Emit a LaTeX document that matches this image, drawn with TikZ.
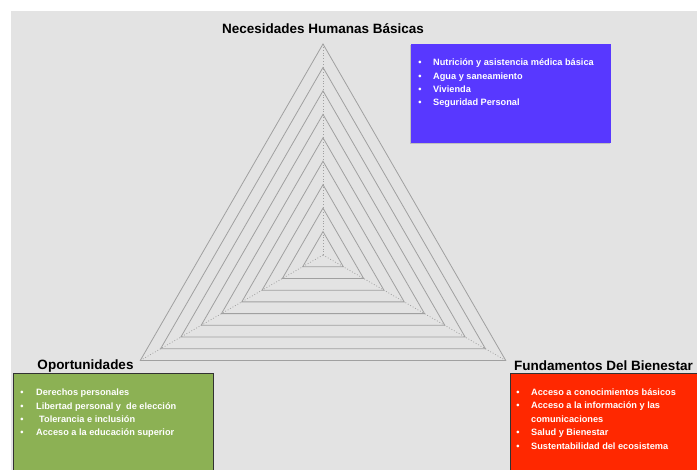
\documentclass[tikz,border=0pt]{standalone}
\usepackage{fontspec}
\setmainfont{Liberation Sans}
\definecolor{bgrey}{RGB}{227,227,227}
\definecolor{ringgrey}{RGB}{160,160,160}
\definecolor{nhbblue}{RGB}{88,56,255}
\definecolor{opgreen}{RGB}{140,177,84}
\definecolor{fbred}{RGB}{255,40,0}
\definecolor{edgedark}{RGB}{50,50,50}
\tikzset{
  ring/.style={draw=ringgrey, line width=0.8pt, line join=miter},
  spoke/.style={draw=ringgrey, line width=0.8pt, dotted},
  heading/.style={font=\bfseries\fontsize{13.5}{15}\selectfont, text=black, inner sep=0pt},
  item/.style={font=\bfseries\fontsize{9.2}{11}\selectfont, text=white, inner sep=0pt, anchor=base west},
  dot/.style={font=\bfseries\fontsize{9.2}{11}\selectfont, text=white, inner sep=0pt, anchor=base},
  box/.style={anchor=north west, inner sep=0pt, line width=0.9pt}
}
\begin{document}
\begin{tikzpicture}[x=1pt, y=-1pt]
\useasboundingbox (0,0) rectangle (697,470);
\clip (0,0) rectangle (697,470);
\fill[white] (0,0) rectangle (697,470);
\fill[bgrey] (11,11) rectangle (697,470);

% radar grid
\coordinate (c) at (323,255);
\coordinate (top) at (323,44);
\coordinate (bl) at ({323+211*cos(210)},{255-211*sin(210)});
\coordinate (br) at ({323+211*cos(330)},{255-211*sin(330)});
\foreach \k in {1,...,9}{
  \pgfmathsetmacro{\r}{211*\k/9}
  \draw[ring] ({323+\r*cos(90)},{255-\r*sin(90)}) -- ({323+\r*cos(210)},{255-\r*sin(210)}) -- ({323+\r*cos(330)},{255-\r*sin(330)}) -- cycle;
}
\draw[spoke] (c) -- (top);
\draw[spoke] (c) -- (bl);
\draw[spoke] (c) -- (br);

% headings
\node[heading] (hnhb) at (323,29) {Necesidades Humanas Básicas};
\node[heading] (hop) at (85.5,366) {Oportunidades};
\node[heading] (hfb) at (603.5,366) {Fundamentos Del Bienestar};

% blue box
\fill[black!25] (409.5,45.5) rectangle (609.5,144.5);
\node[box, fill=nhbblue, minimum width=200pt, minimum height=99pt] (nhbbox) at (411,44) {};
\node[dot] (bd1) at (420,66) {•};
\node[item] (bt1) at (433,66) {Nutrición y asistencia médica básica};
\node[dot] (bd2) at (420,79.3) {•};
\node[item] (bt2) at (433,79.3) {Agua y saneamiento};
\node[dot] (bd3) at (420,92.6) {•};
\node[item] (bt3) at (433,92.6) {Vivienda};
\node[dot] (bd4) at (420,106) {•};
\node[item] (bt4) at (433,106) {Seguridad Personal};

% green box
\node[box, draw=edgedark, fill=opgreen, minimum width=200pt, minimum height=110pt] (opbox) at (13,373.5) {};
\node[dot] (gd1) at (22,396) {•};
\node[item] (gt1) at (36,396) {Derechos personales};
\node[dot] (gd2) at (22,409.3) {•};
\node[item] (gt2) at (36,409.3) {Libertad personal y\ \ de elección};
\node[dot] (gd3) at (22,422.6) {•};
\node[item] (gt3) at (39,422.6) {Tolerancia e inclusión};
\node[dot] (gd4) at (22,436) {•};
\node[item] (gt4) at (36,436) {Acceso a la educación superior};

% red box
\node[box, draw=edgedark, fill=fbred, minimum width=200pt, minimum height=110pt] (fbbox) at (510,373.5) {};
\node[dot] (rd1) at (518,395.6) {•};
\node[item] (rt1) at (531,395.6) {Acceso a conocimientos básicos};
\node[dot] (rd2) at (518,409) {•};
\node[item] (rt2) at (531,409) {Acceso a la información y las};
\node[item] (rt2b) at (531,422.6) {comunicaciones};
\node[dot] (rd3) at (518,436) {•};
\node[item] (rt3) at (531,436) {Salud y Bienestar};
\node[dot] (rd4) at (518,450) {•};
\node[item] (rt4) at (531,450) {Sustentabilidad del ecosistema};
\end{tikzpicture}
\end{document}
